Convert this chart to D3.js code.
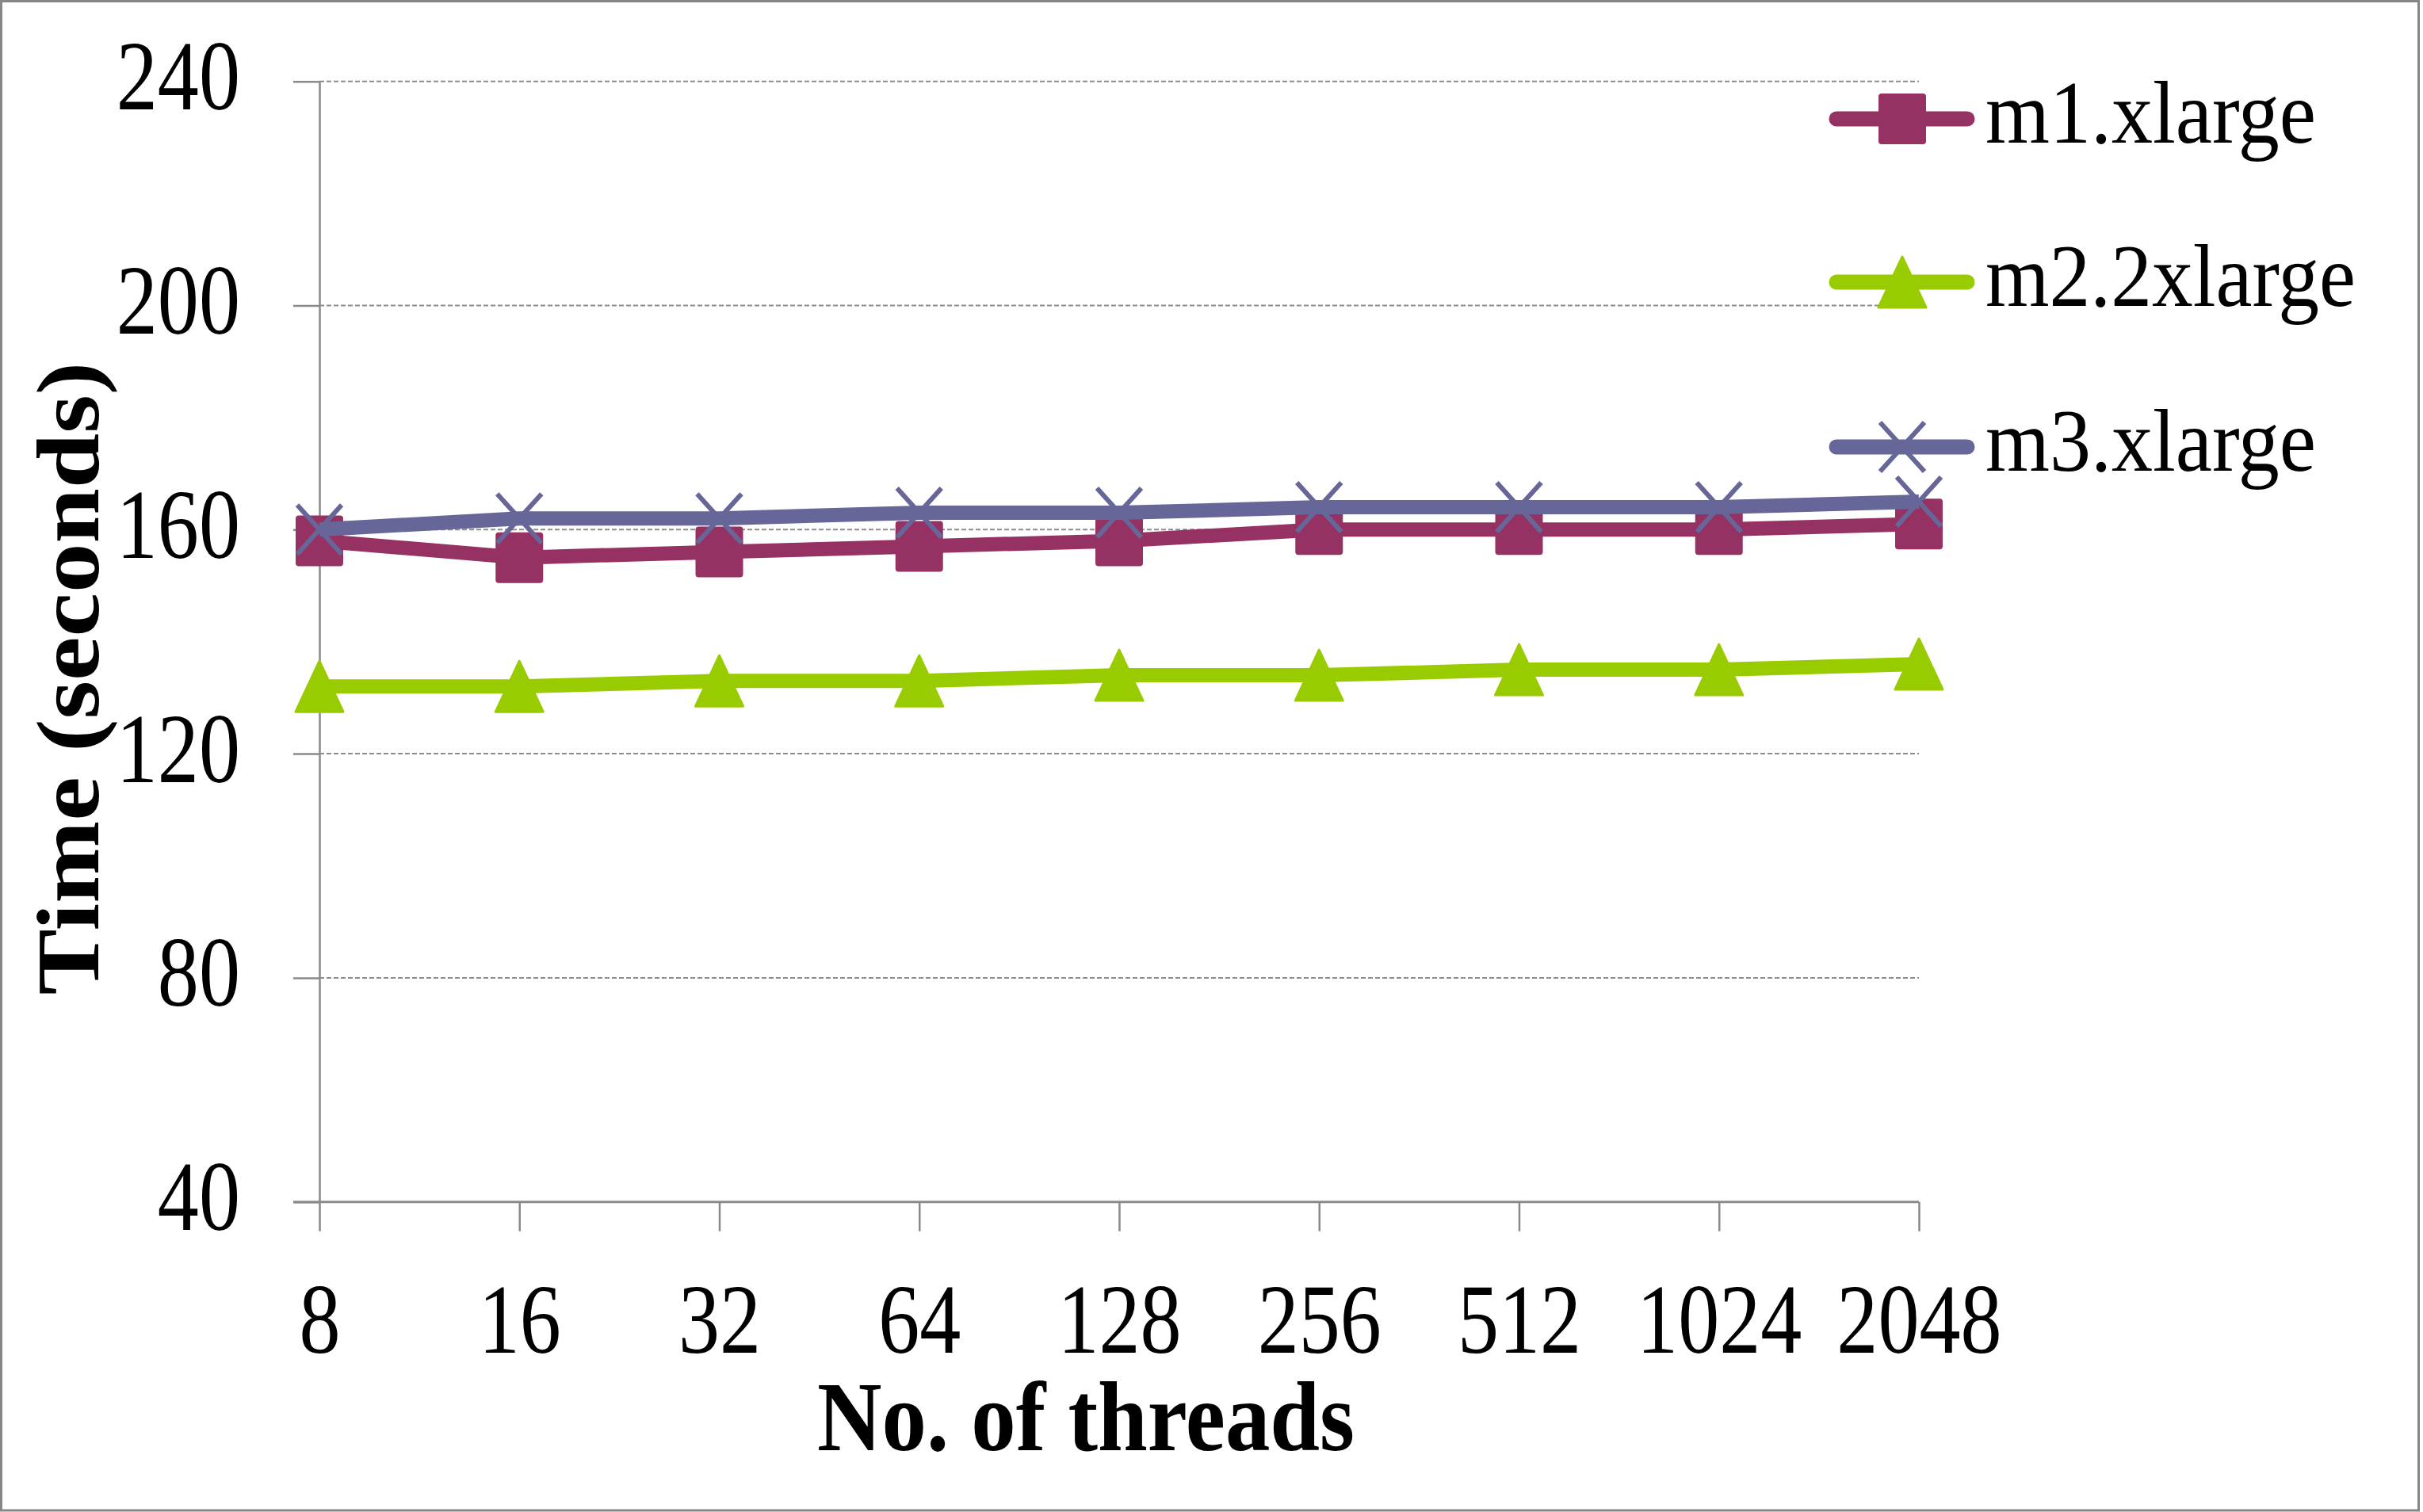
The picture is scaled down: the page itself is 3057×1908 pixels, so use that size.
<!DOCTYPE html>
<html><head><meta charset="utf-8">
<script src="https://cdn.jsdelivr.net/npm/d3@7"></script>
<style>
html,body{margin:0;padding:0;background:#fff;}
svg{display:block;}
text{font-family:"Liberation Serif","Times New Roman",serif;fill:#000;}
</style></head>
<body>
<script>
const categories = ["8","16","32","64","128","256","512","1024","2048"];
const m1Values = [158,155,156,157,158,160,160,160,161];
const m2Values = [132,132,133,133,134,134,135,135,136];
const m3Values = [160,162,162,163,163,164,164,164,165];
const yTicks = [40,80,120,160,200,240];
const seriesNames = ["m1.xlarge","m2.2xlarge","m3.xlarge"];
const xTitle = "No. of threads";
const yTitle = "Time (seconds)";

const W = 3057, H = 1908;
const colors = ["#963263","#99cc00","#666699"];
const shapes = ["square","triangle","cross"];
const series = [m1Values, m2Values, m3Values].map((v,i)=>({name:seriesNames[i], values:v, color:colors[i], shape:shapes[i]}));

const svg = d3.select("body").append("svg").attr("width",W).attr("height",H);
svg.append("rect").attr("x",1.5).attr("y",1.5).attr("width",3050).attr("height",1904.5)
  .attr("fill","#fff").attr("stroke","#868686").attr("stroke-width",3);

const x = d3.scalePoint().domain(categories).range([403,2421]);
const y = d3.scaleLinear().domain([40,240]).range([1516.7,102.7]);
const axisColor = "#8a8a8a";

// gridlines
svg.append("g").selectAll("line").data(yTicks.filter(t=>t!==40)).join("line")
  .attr("x1",403).attr("x2",2421).attr("y1",d=>y(d)).attr("y2",d=>y(d))
  .attr("stroke","#8c8c8c").attr("stroke-width",2).attr("stroke-dasharray","6,3");

// y axis
const yAxisG = svg.append("g").attr("transform","translate(403,0)")
  .call(d3.axisLeft(y).tickValues(yTicks).tickSize(33).tickSizeOuter(0).tickFormat(d3.format("d")));
yAxisG.select(".domain").attr("stroke",axisColor).attr("stroke-width",2.5);
yAxisG.selectAll(".tick line").attr("stroke",axisColor).attr("stroke-width",2.5);
yAxisG.selectAll(".tick text").attr("x",0).attr("dy",null).attr("y",0)
  .attr("text-anchor","end").attr("font-size",124)
  .attr("transform","translate(-100,35) scale(0.84,1)");

// x axis
const xAxisG = svg.append("g").attr("transform","translate(0,1516.7)")
  .call(d3.axisBottom(x).tickSize(37).tickSizeOuter(0));
xAxisG.select(".domain").attr("d","M370,0H2421").attr("stroke",axisColor).attr("stroke-width",3);
xAxisG.selectAll(".tick line").attr("stroke",axisColor).attr("stroke-width",2.5);
xAxisG.selectAll(".tick text").attr("y",0).attr("dy",null)
  .attr("text-anchor","middle").attr("font-size",124)
  .attr("transform","translate(0,190) scale(0.84,1)");
svg.selectAll(".tick text").attr("font-family","Liberation Serif, Times New Roman, serif").attr("fill","#000");

function drawMarker(g, shape, color){
  if(shape==="square"){
    g.append("rect").attr("x",-30).attr("y",-32).attr("width",60).attr("height",64).attr("rx",4)
      .attr("fill",color);
  } else if(shape==="triangle"){
    g.append("path").attr("d","M0,-32L30,32L-30,32Z").attr("fill",color)
      .attr("stroke",color).attr("stroke-width",3).attr("stroke-linejoin","round");
  } else {
    g.append("path").attr("d","M-28,-31L28,31M-28,31L28,-31").attr("fill","none")
      .attr("stroke",color).attr("stroke-width",6);
  }
}

const line = d3.line().x((d,i)=>x(categories[i])).y(d=>y(d));
series.forEach(s=>{
  const g = svg.append("g");
  g.append("path").attr("d",line(s.values)).attr("fill","none").attr("stroke",s.color)
    .attr("stroke-width",18).attr("stroke-linejoin","round");
  s.values.forEach((v,i)=>{
    const mg = g.append("g").attr("transform",`translate(${x(categories[i])},${y(v)})`);
    drawMarker(mg, s.shape, s.color);
  });
});

// legend
const legendY = [150,356,564];
const legendW = [417,467,417];
series.forEach((s,i)=>{
  const g = svg.append("g").attr("transform",`translate(0,${legendY[i]})`);
  g.append("line").attr("x1",2317).attr("x2",2482).attr("y1",0).attr("y2",0)
    .attr("stroke",s.color).attr("stroke-width",19).attr("stroke-linecap","round");
  const mg = g.append("g").attr("transform","translate(2400,0)");
  drawMarker(mg, s.shape, s.color);
  const t = g.append("text").attr("font-size",112).text(s.name);
  const len = t.node().getComputedTextLength();
  t.attr("transform",`translate(2505,30) scale(${legendW[i]/len},1)`);
});

// x title
const xt = svg.append("text").attr("font-size",124).attr("font-weight","bold")
  .attr("text-anchor","middle").text(xTitle);
const xl = xt.node().getComputedTextLength();
xt.attr("transform",`translate(1370,1830) scale(${678/xl},1)`);

// y title
const yt = svg.append("text").attr("font-size",124).attr("font-weight","bold")
  .attr("text-anchor","middle").text(yTitle);
const yl = yt.node().getComputedTextLength();
yt.attr("transform",`translate(124,856) rotate(-90) scale(${799/yl},0.91)`);
</script>
</body></html>
